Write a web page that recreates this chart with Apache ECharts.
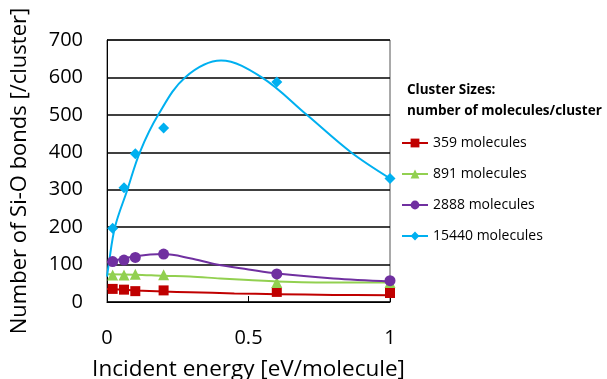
<!DOCTYPE html>
<html>
<head>
<meta charset="utf-8">
<script src="https://cdn.jsdelivr.net/npm/echarts@6/dist/echarts.min.js"></script>
<style>html,body{margin:0;padding:0;background:#fff}#c{width:607px;height:379px}</style>
</head>
<body>
<div id="c"></div>
<script>
// measured points
const energies = [0.02, 0.06, 0.1, 0.2, 0.6, 1.0];
const bonds359 = [35, 33, 29, 31, 27, 24];
const bonds891 = [72, 72, 74, 73, 52, 52];
const bonds2888 = [108, 112, 119, 128, 75, 57];
const bonds15440 = [197, 305, 396, 465, 588, 330];

// trendlines
const trendX359 = [0, 0.1, 0.2, 0.293, 0.45, 0.6, 0.8, 1.0];
const trend359 = [35, 31, 28, 26, 23, 21, 19, 18];
const trendX891 = [0, 0.1, 0.2, 0.293, 0.4, 0.5, 0.6, 0.8, 1.0];
const trend891 = [74, 73, 70, 68, 63, 59, 55, 52, 52];
const trendX2888 = [0, 0.1, 0.2, 0.293, 0.388, 0.5, 0.6, 0.8, 1.0];
const trend2888 = [106, 122, 128, 117, 100, 87, 76, 63, 55];
const trendX15440 = [0, 0.006, 0.028, 0.072, 0.116, 0.181, 0.276, 0.403, 0.547, 0.706, 0.862, 1.0];
const trend15440 = [68, 100, 200, 300, 400, 500, 600, 645, 600, 500, 400, 330];

const seriesNames = ['359 molecules', '891 molecules', '2888 molecules', '15440 molecules'];
const colors = ['#C00000', '#92D050', '#7030A0', '#00B0F0'];
const symbols = ['rect', 'triangle', 'circle', 'diamond'];
const symbolSizes = [10, 11, 11, 11];
const pts = [bonds359, bonds891, bonds2888, bonds15440];
const tx = [trendX359, trendX891, trendX2888, trendX15440];
const ty = [trend359, trend891, trend2888, trend15440];

const xTicks = [0, 0.5, 1];
const FONT = 'Open Sans';

const zip = (a, b) => a.map((v, i) => [v, b[i]]);

const series = [];
seriesNames.forEach((n, i) => {
  series.push({
    name: n, type: 'line', smooth: 0.35, showSymbol: false, symbol: symbols[i],
    data: zip(tx[i], ty[i]), color: colors[i],
    lineStyle: { width: 2, color: colors[i] }, silent: true, z: 2
  });
});
seriesNames.forEach((n, i) => {
  series.push({
    name: 'pts' + i, type: 'scatter', symbol: symbols[i], symbolSize: symbolSizes[i],
    data: zip(energies, pts[i]), itemStyle: { color: colors[i], opacity: 1 }, z: 3
  });
});

const chart = echarts.init(document.getElementById('c'), null, { renderer: 'canvas' });
chart.setOption({
  animation: false,
  backgroundColor: '#fff',
  textStyle: { fontFamily: FONT },
  title: {
    text: 'Cluster Sizes:\nnumber of molecules/cluster',
    left: 402, top: 75,
    textStyle: { fontFamily: FONT, fontWeight: 'bold', fontSize: 13.5, lineHeight: 21, color: '#000' }
  },
  legend: {
    data: seriesNames, orient: 'vertical', left: 396, top: 130,
    itemWidth: 26, itemHeight: 11, itemGap: 15,
    textStyle: { fontFamily: FONT, fontSize: 14, color: '#000', lineHeight: 16 }
  },
  grid: { left: 107, right: 217, top: 40, bottom: 77, show: true, borderColor: '#555', borderWidth: 1,
    containLabel: false, outerBoundsMode: 'none' },
  xAxis: {
    type: 'value', min: 0, max: 1, interval: 0.5,
    name: 'Incident energy [eV/molecule]', nameLocation: 'middle', nameGap: 56,
    nameTextStyle: { fontFamily: FONT, fontSize: 22.5, color: '#000' },
    axisLine: { lineStyle: { color: '#000', width: 1 } },
    axisTick: { show: true, inside: true, length: 6, lineStyle: { color: '#000' } },
    axisLabel: { fontFamily: FONT, fontSize: 20, color: '#000', margin: 26,
      formatter: v => (xTicks.includes(v) ? String(v) : '') },
    splitLine: { show: false }
  },
  yAxis: {
    type: 'value', min: 0, max: 700, interval: 100,
    name: 'Number of Si-O bonds [/cluster]', nameLocation: 'middle', nameGap: 76,
    nameTextStyle: { fontFamily: FONT, fontSize: 22, color: '#000' },
    axisLine: { show: true, lineStyle: { color: '#000', width: 1 } },
    axisTick: { show: false },
    axisLabel: { fontFamily: FONT, fontSize: 20, color: '#000', margin: 24 },
    splitLine: { show: true, lineStyle: { color: '#000', width: 1.5 } }
  },
  series: series
});
</script>
</body>
</html>
